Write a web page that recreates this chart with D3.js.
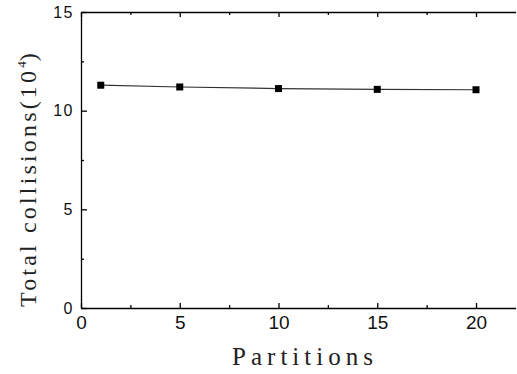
<!DOCTYPE html>
<html>
<head>
<meta charset="utf-8">
<script src="https://cdn.jsdelivr.net/npm/d3@7"></script>
<style>
  body { margin: 0; background: #fff; }
  .axis path, .axis line { stroke: #000; stroke-width: 1.3; }
  .axis text { font-family: "Liberation Sans", Arial, sans-serif; fill: #111; }
  .axisLabel { font-family: "Liberation Serif", "DejaVu Serif", serif; fill: #222; }
</style>
</head>
<body>
<div id="chart"></div>
<script>
/* data */
const partitions = [1, 5, 10, 15, 20];
const collisions = [11.29, 11.20, 11.12, 11.08, 11.06];
const xTicks = [0, 5, 10, 15, 20];
const yTicks = [0, 5, 10, 15];
const xMinor = [2.5, 7.5, 12.5, 17.5];
const yMinor = [2.5, 7.5, 12.5];

const width = 517, height = 374;
const margin = { top: 12, left: 81, right: 0, bottom: 66 };

const svg = d3.select("#chart")
    .append("svg")
    .attr("width", width)
    .attr("height", height);

// x goes out to 22, which puts the right frame just off the picture
const xScale = d3.scaleLinear()
    .domain([0, 22])
    .range([margin.left, margin.left + 22 * 19.75]);

const yScale = d3.scaleLinear()
    .domain([0, 15])
    .range([height - margin.bottom, margin.top]);

// bottom axis, ticks pointing inward
svg.append("g")
    .attr("class", "axis")
    .attr("transform", `translate(0,${yScale(0)})`)
    .call(d3.axisBottom(xScale).tickValues(xTicks).tickSizeInner(-5).tickSizeOuter(0).tickPadding(8))
    .call(g => g.selectAll("text").style("font-size", "19px"));

svg.append("g")
    .attr("class", "axis")
    .attr("transform", `translate(0,${yScale(0)})`)
    .call(d3.axisBottom(xScale).tickValues(xMinor).tickSizeInner(-3).tickSizeOuter(0).tickFormat(""))
    .call(g => g.select(".domain").remove());

// top frame
svg.append("g")
    .attr("class", "axis")
    .attr("transform", `translate(0,${yScale(15)})`)
    .call(d3.axisTop(xScale).tickValues(xTicks).tickSizeInner(-5).tickSizeOuter(0).tickFormat(""));

svg.append("g")
    .attr("class", "axis")
    .attr("transform", `translate(0,${yScale(15)})`)
    .call(d3.axisTop(xScale).tickValues(xMinor).tickSizeInner(-3).tickSizeOuter(0).tickFormat(""))
    .call(g => g.select(".domain").remove());

// left axis
svg.append("g")
    .attr("class", "axis")
    .attr("transform", `translate(${xScale(0)},0)`)
    .call(d3.axisLeft(yScale).tickValues(yTicks).tickSizeInner(-6).tickSizeOuter(0).tickPadding(7))
    .call(g => g.selectAll("text").style("font-size", "16px").style("letter-spacing", "1.5px"));

svg.append("g")
    .attr("class", "axis")
    .attr("transform", `translate(${xScale(0)},0)`)
    .call(d3.axisLeft(yScale).tickValues(yMinor).tickSizeInner(-3).tickSizeOuter(0).tickFormat(""))
    .call(g => g.select(".domain").remove());

// line + square markers
const line = d3.line()
    .x((d, i) => xScale(partitions[i]))
    .y(d => yScale(d));

svg.append("path")
    .datum(collisions)
    .attr("d", line)
    .attr("fill", "none")
    .attr("stroke", "#333")
    .attr("stroke-width", 1.2);

svg.selectAll(".marker")
    .data(collisions)
    .join("rect")
    .attr("class", "marker")
    .attr("x", (d, i) => xScale(partitions[i]) - 3.5)
    .attr("y", d => yScale(d) - 3.5)
    .attr("width", 7)
    .attr("height", 7)
    .attr("fill", "#000");

// axis titles
svg.append("text")
    .attr("class", "axisLabel")
    .attr("x", 232)
    .attr("y", 365)
    .attr("textLength", 141)
    .attr("lengthAdjust", "spacing")
    .style("font-size", "25px")
    .text("Partitions");

const yLabel = svg.append("text")
    .attr("class", "axisLabel")
    .attr("transform", "translate(36,307) rotate(-90)")
    .style("font-size", "24px");
yLabel.append("tspan")
    .attr("x", 0)
    .attr("textLength", 236)
    .attr("lengthAdjust", "spacing")
    .text("Total collisions(10");
yLabel.append("tspan").attr("dy", -10).style("font-size", "13px").text("4");
yLabel.append("tspan").attr("dy", 10).text(")");
</script>
</body>
</html>
